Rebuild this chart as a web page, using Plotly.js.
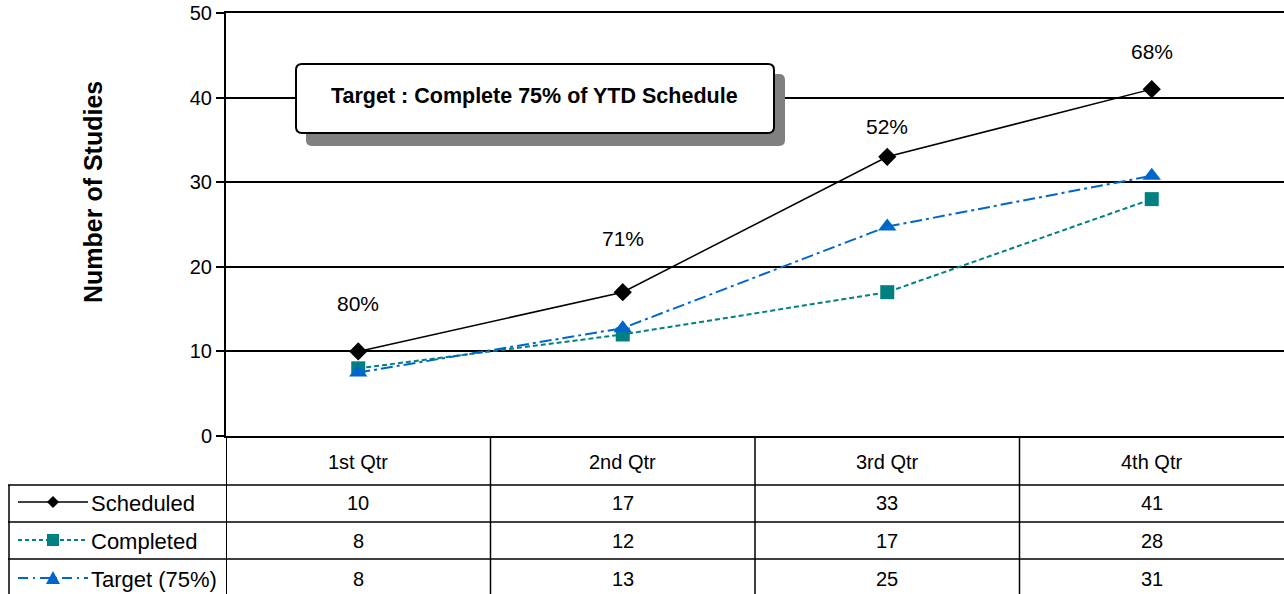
<!DOCTYPE html>
<html>
<head>
<meta charset="utf-8">
<script src="https://cdn.plot.ly/plotly-3.0.1.min.js"></script>
<style>html,body{margin:0;padding:0;background:#fff;}#chart{width:1284px;height:594px;}</style>
</head>
<body>
<div id="chart"></div>
<script>
// ---- data ----
const categories = ['1st Qtr', '2nd Qtr', '3rd Qtr', '4th Qtr'];
const scheduled = [10, 17, 33, 41];
const completed = [8, 12, 17, 28];
const target = [7.5, 12.75, 24.75, 30.75];
const seriesNames = ['Scheduled', 'Completed', 'Target (75%)'];
const yTicks = [0, 10, 20, 30, 40, 50];
const boxText = 'Target : Complete 75% of YTD Schedule';
const yTitle = 'Number of Studies';

// ---- geometry helpers (pixel -> paper) ----
const W = 1284, H = 594, L = 226, T = 13, B = 158, R = 0;
const PW = W - L - R, PH = H - T - B;
const px = x => (x - L) / PW;
const py = y => (T + PH - y) / PH;

const FONT = 'Liberation Sans, Arial, sans-serif';
const colors = ['#000000', '#008080', '#0066CC'];
const dashes = ['solid', '5px,3px', '12px,4px,3px,4px'];
const symbols = ['diamond', 'square', 'triangle-up'];
const msizes = [14, 14, 16];
const seriesData = [scheduled, completed, target];

const traces = seriesData.map((d, i) => ({
  type: 'scatter', mode: 'lines+markers', x: categories, y: d, name: seriesNames[i],
  line: {color: colors[i], width: i === 0 ? 1.5 : 2, dash: dashes[i]},
  marker: {symbol: symbols[i], size: msizes[i], color: colors[i]},
  cliponaxis: false, showlegend: false
}));

const shapes = [];
const annotations = [];
const ann = o => annotations.push(Object.assign({showarrow: false, xanchor: 'center', yanchor: 'middle'}, o));

function roundRect(x0, y0, x1, y1, r) {
  const X = v => px(v).toFixed(5), Y = v => py(v).toFixed(5);
  return 'M' + X(x0 + r) + ',' + Y(y0) + ' L' + X(x1 - r) + ',' + Y(y0) +
    ' Q' + X(x1) + ',' + Y(y0) + ' ' + X(x1) + ',' + Y(y0 + r) +
    ' L' + X(x1) + ',' + Y(y1 - r) + ' Q' + X(x1) + ',' + Y(y1) + ' ' + X(x1 - r) + ',' + Y(y1) +
    ' L' + X(x0 + r) + ',' + Y(y1) + ' Q' + X(x0) + ',' + Y(y1) + ' ' + X(x0) + ',' + Y(y1 - r) +
    ' L' + X(x0) + ',' + Y(y0 + r) + ' Q' + X(x0) + ',' + Y(y0) + ' ' + X(x0 + r) + ',' + Y(y0) + ' Z';
}

// text box with shadow
shapes.push({type: 'path', xref: 'paper', yref: 'paper', path: roundRect(306, 74, 785, 146, 6),
  fillcolor: '#808080', line: {width: 0}, layer: 'above'});
shapes.push({type: 'path', xref: 'paper', yref: 'paper', path: roundRect(296, 64, 774, 133, 6),
  fillcolor: '#ffffff', line: {color: '#000', width: 2}, layer: 'above'});
ann({xref: 'paper', yref: 'paper', x: px(534), y: py(96), text: '<b>' + boxText + '</b>',
  font: {family: FONT, size: 21.5, color: '#000'}});

// y title
ann({xref: 'paper', yref: 'paper', x: px(93), y: py(192), text: '<b>' + yTitle + '</b>',
  textangle: -90, font: {family: FONT, size: 25, color: '#000'}});

// percentage labels
const pctShift = [48, 54, 30, 38];
categories.forEach((c, i) => {
  ann({x: c, y: scheduled[i], xref: 'x', yref: 'y', yshift: pctShift[i],
    text: Math.round(completed[i] / scheduled[i] * 100) + '%',
    font: {family: FONT, size: 21, color: '#000'}});
});

// ---- data table ----
const rowLines = [485, 522, 559];
const rowCenters = [503, 541, 579];
const headerCenter = 462;
rowLines.forEach(y => shapes.push({type: 'line', xref: 'paper', yref: 'paper', x0: px(8), x1: 1, y0: py(y), y1: py(y),
  line: {color: '#000', width: 1.5}}));
shapes.push({type: 'line', xref: 'paper', yref: 'paper', x0: px(9), x1: px(9), y0: py(485), y1: py(600), line: {color: '#000', width: 1.5}});
for (let k = 0; k < categories.length; k++) {
  shapes.push({type: 'line', xref: 'x', yref: 'paper', x0: k - 0.5, x1: k - 0.5, y0: 0, y1: py(600),
    line: {color: '#000', width: k === 0 ? 2 : 1.5}});
}
categories.forEach((c, i) => {
  ann({x: c, xref: 'x', yref: 'paper', y: py(headerCenter), text: c,
    font: {family: FONT, size: 20, color: '#000'}});
  seriesData.forEach((d, s) => {
    ann({x: c, xref: 'x', yref: 'paper', y: py(rowCenters[s]), text: String(Math.round(d[i])),
      font: {family: FONT, size: 20, color: '#000'}});
  });
});
// legend keys in table
function markerPath(sym, cx, cy, r) {
  const P = (x, y) => px(x).toFixed(5) + ',' + py(y).toFixed(5);
  if (sym === 'diamond') return 'M' + P(cx, cy - r) + ' L' + P(cx + r, cy) + ' L' + P(cx, cy + r) + ' L' + P(cx - r, cy) + ' Z';
  if (sym === 'square') return 'M' + P(cx - r, cy - r) + ' L' + P(cx + r, cy - r) + ' L' + P(cx + r, cy + r) + ' L' + P(cx - r, cy + r) + ' Z';
  return 'M' + P(cx, cy - r - 1) + ' L' + P(cx + r + 1, cy + r) + ' L' + P(cx - r - 1, cy + r) + ' Z';
}
seriesNames.forEach((n, s) => {
  const cy = rowCenters[s] - 1;
  shapes.push({type: 'line', xref: 'paper', yref: 'paper', x0: px(18), x1: px(88), y0: py(cy), y1: py(cy),
    line: {color: colors[s], width: s === 0 ? 1.5 : 2, dash: s === 0 ? 'solid' : (s === 1 ? '4px,3px' : '10px,5px,2px,5px')}});
  shapes.push({type: 'path', xref: 'paper', yref: 'paper', path: markerPath(symbols[s], 53, cy, 6),
    fillcolor: colors[s], line: {width: 0}});
  ann({xref: 'paper', yref: 'paper', x: px(89), y: py(rowCenters[s]), xanchor: 'left', text: n,
    font: {family: FONT, size: 22, color: '#000'}});
});

const layout = {
  width: W, height: H, margin: {l: L, r: R, t: T, b: B, pad: 0},
  paper_bgcolor: '#fff', plot_bgcolor: '#fff', showlegend: false,
  font: {family: FONT, size: 20, color: '#000'},
  xaxis: {type: 'category', range: [-0.5, 3.5], showticklabels: false, ticks: '', showgrid: false,
    showline: true, linecolor: '#000', linewidth: 2, mirror: true, zeroline: false, fixedrange: true},
  yaxis: {range: [0, 50], tickvals: yTicks, ticks: 'outside', ticklen: 8, tickwidth: 2, tickcolor: '#000',
    showline: true, linecolor: '#000', linewidth: 2, showgrid: true, gridcolor: '#000', gridwidth: 2,
    zeroline: false, tickfont: {family: FONT, size: 20, color: '#000'}, ticklabelstandoff: 0, fixedrange: true},
  shapes: shapes, annotations: annotations
};

Plotly.newPlot('chart', traces, layout, {staticPlot: true, displayModeBar: false});
</script>
</body>
</html>
